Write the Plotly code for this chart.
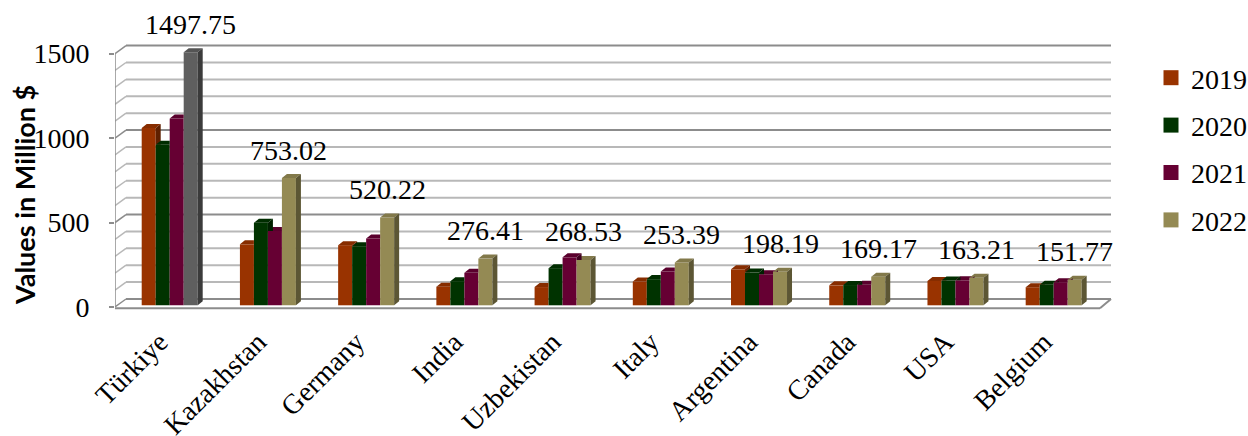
import plotly.graph_objects as go

# ---------------- data ----------------
countries = ["Türkiye", "Kazakhstan", "Germany", "India", "Uzbekistan",
             "Italy", "Argentina", "Canada", "USA", "Belgium"]
years = ["2019", "2020", "2021", "2022"]
v2019 = [1050, 361, 356, 110, 108, 141, 213, 118, 144, 107]
v2020 = [950, 489, 350, 143, 220, 155, 194, 120, 147, 122]
v2021 = [1106, 440, 395, 192, 284, 200, 184, 122, 148, 137]
v2022 = [1497.75, 753.02, 520.22, 276.41, 268.53, 253.39, 198.19, 169.17, 163.21, 151.77]
y_ticks = [0, 500, 1000, 1500]
grid_step = 100

series = [v2019, v2020, v2021, v2022]
colors = ["#993300", "#003300", "#660033", "#948A54"]
highlight = {"Türkiye": "#5F5F5F"}   # 2022 bar of Türkiye drawn in gray

SERIF = "Liberation Serif, Times New Roman, serif"

# ---------------- geometry (pixels) ----------------
W, H = 1248, 436
PX_L, PX_R, PY_T, PY_B = 115, 1115, 38, 312
XC0, SX = 169.7, 98.22         # pixel of category 0 centre, px per category
YB, SY = 305.3, 0.16893        # pixel of value 0 at bar plane, px per unit
BAR_PX = 14.0
DX_PX, DY_PX = 5.0, 4.0        # bar depth offset
FRONT = (115.0, 307.0)         # front axis x, zero y
BACK = (126.0, 299.0)          # back wall left x, zero y
FRONT_R, BACK_R = 1100.0, 1111.0
LABEL_SHIFT_PX = -10.0         # category label anchor shift


def X(px):
    return (px - XC0) / SX


def Y(py):
    return (YB - py) / SY


w = BAR_PX / SX
dxu = DX_PX / SX
dyu = DY_PX / SY


def shade(hexc, f):
    hexc = hexc.lstrip("#")
    r, g, b = (int(hexc[i:i + 2], 16) for i in (0, 2, 4))
    r, g, b = (max(0, min(255, int(round(c * f)))) for c in (r, g, b))
    return f"rgb({r},{g},{b})"


def clip(poly, a, b, c):
    """keep part of polygon with a*x + b*y <= c"""
    out = []
    n = len(poly)
    for i in range(n):
        P, Q = poly[i], poly[(i + 1) % n]
        fp = a * P[0] + b * P[1] - c
        fq = a * Q[0] + b * Q[1] - c
        if fp <= 0:
            out.append(P)
        if (fp < 0 < fq) or (fq < 0 < fp):
            t = fp / (fp - fq)
            out.append((P[0] + t * (Q[0] - P[0]), P[1] + t * (Q[1] - P[1])))
    return out


def area_px(poly):
    if len(poly) < 3:
        return 0
    s = 0
    for i in range(len(poly)):
        x1, y1 = poly[i]
        x2, y2 = poly[(i + 1) % len(poly)]
        s += (x1 * SX) * (y2 * SY) - (x2 * SX) * (y1 * SY)
    return abs(s) / 2


fig = go.Figure()

# front faces: real bars
for k, (yr, vals) in enumerate(zip(years, series)):
    cols = [highlight.get(c, colors[k]) if k == 3 else colors[k] for c in countries]
    fig.add_trace(go.Bar(
        x=list(range(len(countries))), y=vals, width=w, offset=(k - 2) * w,
        marker=dict(color=cols, line=dict(width=0)), name=yr, showlegend=False,
        hoverinfo="skip"))

# 3-D top and side faces, clipped where the next bar hides them
polys = {}
for i, c in enumerate(countries):
    for k in range(4):
        v = series[k][i]
        base_col = highlight.get(c, colors[k]) if k == 3 else colors[k]
        L = i + (k - 2) * w
        R = L + w
        cap = [(L, v), (R, v), (R + dxu, v + dyu), (L + dxu, v + dyu)]
        side = [(R, 0), (R + dxu, dyu), (R + dxu, v + dyu), (R, v)]
        for poly, f in ((cap, 0.88), (side, 0.62)):
            if k < 3:
                vn = series[k + 1][i]
                pieces = [clip(poly, 1, 0, R),
                          clip(clip(poly, -1, 0, -R), 0, -1, -vn)]
            else:
                pieces = [poly]
            col = shade(base_col, f)
            for p in pieces:
                if area_px(p) > 0.3:
                    polys.setdefault(col, []).append(p)

for col, plist in polys.items():
    xs, ys = [], []
    for p in plist:
        xs += [q[0] for q in p] + [p[0][0], None]
        ys += [q[1] for q in p] + [p[0][1], None]
    fig.add_trace(go.Scatter(x=xs, y=ys, mode="lines", fill="toself",
                             fillcolor=col, line=dict(width=0, color=col),
                             showlegend=False, hoverinfo="skip"))

# legend entries
for yr, col in zip(years, colors):
    fig.add_trace(go.Scatter(x=[None], y=[None], mode="markers", name=yr,
                             legendgroup=yr,
                             marker=dict(symbol="square", size=15, color=col)))

# ---------------- walls, gridlines, floor ----------------
shapes = []
y_front0 = Y(FRONT[1])
y_back0 = Y(BACK[1])
vmax = max(y_ticks)
for g in range(0, vmax + grid_step, grid_step):
    major = g % 500 == 0
    col = "#8C8C8C" if major else "#B8B8B8"
    shapes.append(dict(type="line", xref="x", yref="y", layer="below",
                       x0=X(BACK[0]), x1=X(BACK_R), y0=g + y_back0, y1=g + y_back0,
                       line=dict(color=col, width=2)))
    shapes.append(dict(type="line", xref="x", yref="y", layer="below",
                       x0=X(FRONT[0]), x1=X(BACK[0]), y0=g + y_front0, y1=g + y_back0,
                       line=dict(color=col, width=1.5)))
# front axis line
shapes.append(dict(type="line", xref="x", yref="y", layer="below",
                   x0=X(FRONT[0]), x1=X(FRONT[0]), y0=y_front0, y1=vmax + y_front0,
                   line=dict(color="#8C8C8C", width=1.5)))
# floor
shapes.append(dict(type="line", xref="x", yref="y", layer="below",
                   x0=X(FRONT[0]), x1=X(FRONT_R), y0=Y(308.3), y1=Y(308.3),
                   line=dict(color="#8C8C8C", width=2)))
shapes.append(dict(type="line", xref="x", yref="y", layer="below",
                   x0=X(FRONT_R), x1=X(BACK_R), y0=Y(308.3), y1=y_back0,
                   line=dict(color="#8C8C8C", width=2)))

# ---------------- labels ----------------
annotations = []
for i, v in enumerate(v2022):
    annotations.append(dict(x=i + 1.5 * w, y=v, xref="x", yref="y",
                            text=f"{v:.2f}", showarrow=False, yshift=28,
                            xanchor="center", yanchor="middle",
                            font=dict(family=SERIF, size=28, color="black")))
annotations.append(dict(x=(24 - PX_L) / (PX_R - PX_L), y=(PY_B - 195) / (PY_B - PY_T),
                        xref="paper", yref="paper", text="<b>Values in Million $</b>",
                        textangle=-90, showarrow=False, xanchor="center", yanchor="middle",
                        font=dict(family="Lato", size=27, color="black")))

fig.update_layout(
    width=W, height=H,
    font=dict(family=SERIF, color="black"),
    margin=dict(l=PX_L, r=W - PX_R, t=PY_T, b=H - PY_B, pad=0, autoexpand=False),
    paper_bgcolor="white", plot_bgcolor="rgba(0,0,0,0)",
    barmode="overlay",
    shapes=shapes, annotations=annotations,
    legend=dict(xref="container", yref="container", x=1151 / W, y=1 - 53 / H,
                xanchor="left", yanchor="top", tracegroupgap=8,
                font=dict(family=SERIF, size=28, color="black"),
                bgcolor="rgba(0,0,0,0)"),
    xaxis=dict(range=[X(PX_L), X(PX_R)],
               tickvals=[i + LABEL_SHIFT_PX / SX for i in range(len(countries))],
               ticktext=countries, tickangle=-45, showgrid=False, zeroline=False,
               showline=False, ticks="", automargin=False, ticklabelstandoff=7,
               tickfont=dict(family=SERIF, size=28, color="black")),
    yaxis=dict(range=[Y(PY_B), Y(PY_T)], tickvals=[t + y_front0 for t in y_ticks],
               ticktext=[str(t) for t in y_ticks], showgrid=False, zeroline=False,
               showline=False, ticks="outside", ticklen=5, tickwidth=1.5,
               tickcolor="#8C8C8C", ticklabelstandoff=14, automargin=False,
               tickfont=dict(family=SERIF, size=28, color="black")),
    showlegend=True,
)

fig.write_html("out.html", config={"displayModeBar": False},
               post_script="document.body.style.margin='0';document.body.style.overflow='hidden';")
